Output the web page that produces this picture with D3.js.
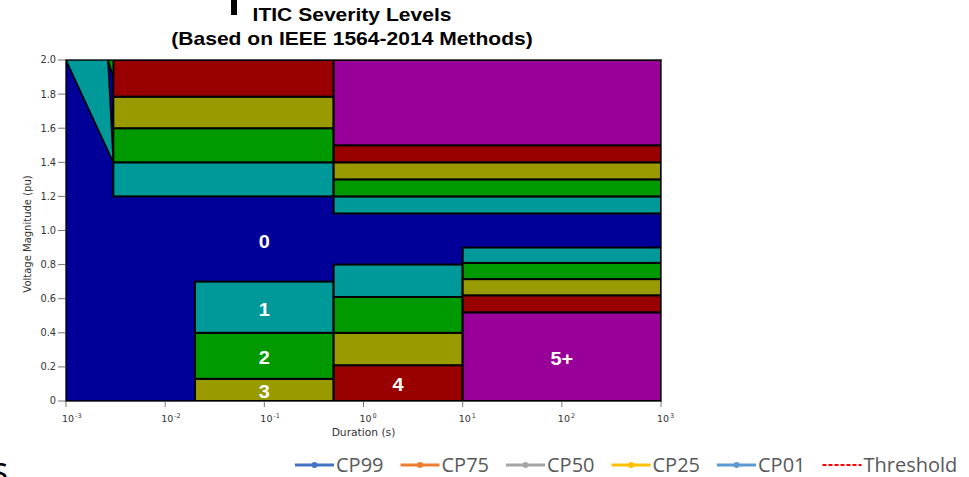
<!DOCTYPE html>
<html>
<head>
<meta charset="utf-8">
<script src="https://cdn.jsdelivr.net/npm/d3@7"></script>
<style>
  html, body { margin: 0; padding: 0; background: #ffffff; }
  svg { display: block; }
</style>
</head>
<body>
<svg id="chart" width="969" height="477"></svg>
<script>
// Severity levels (IEEE 1564-2014 style), level 0 .. 5+
const levelNames  = ["0", "1", "2", "3", "4", "5+"];
const levelColors = ["#000099", "#009999", "#009900", "#999900", "#990000", "#990099"];

// Overvoltage bands, 3 ms .. 0.5 s
const overShortSpan   = [0.003, 0.5];
const overShortEdges  = [1.2, 1.4, 1.6, 1.785, 2.0];
const overShortLevels = [1, 2, 3, 4];

// Overvoltage bands, 0.5 s .. 1000 s
const overLongSpan   = [0.5, 1000];
const overLongEdges  = [1.1, 1.2, 1.3, 1.4, 1.5, 2.0];
const overLongLevels = [1, 2, 3, 4, 5];

// Undervoltage bands, 20 ms .. 0.5 s
const underShortSpan   = [0.02, 0.5];
const underShortEdges  = [0, 0.13, 0.4, 0.7];
const underShortLevels = [3, 2, 1];

// Undervoltage bands, 0.5 s .. 10 s
const underMidSpan   = [0.5, 10];
const underMidEdges  = [0, 0.21, 0.4, 0.61, 0.8];
const underMidLevels = [4, 3, 2, 1];

// Undervoltage bands, 10 s .. 1000 s
const underLongSpan   = [10, 1000];
const underLongEdges  = [0, 0.52, 0.62, 0.715, 0.81, 0.9];
const underLongLevels = [5, 4, 3, 2, 1];

// Sub-3 ms overvoltage wedges as [duration, pu] vertices
const wedgeLevel1 = [[0.001, 2.0], [0.00265, 2.0], [0.003, 1.4]];
const wedgeLevel2 = [[0.00265, 2.0], [0.003, 2.0], [0.003, 1.9]];

// Axis ticks
const xTickExponents = [-3, -2, -1, 0, 1, 2, 3];
const yTickValues    = [0, 0.2, 0.4, 0.6, 0.8, 1.0, 1.2, 1.4, 1.6, 1.8, 2.0];

// Legend entries
const legendNames  = ["CP99", "CP75", "CP50", "CP25", "CP01", "Threshold"];
const legendColors = ["#4472C4", "#ED7D31", "#A5A5A5", "#FFC000", "#5B9BD5", "#FF0000"];

const svg = d3.select("#chart");

const plot = { left: 66, right: 661, top: 60, bottom: 401 };
const x = d3.scaleLog().domain([1e-3, 1e3]).range([plot.left, plot.right]);
const y = d3.scaleLinear().domain([0, 2]).range([plot.bottom, plot.top]);

const STRETCH = 1.17;   // chart text is drawn slightly wide

function wideText(parent, px, py, str, sx) {
  const g = parent.append("g")
    .attr("transform", `translate(${px},${py}) scale(${sx === undefined ? STRETCH : sx},1)`);
  return g.append("text").attr("x", 0).attr("y", 0).text(str);
}

// ---- Level 0 background
svg.append("rect")
  .attr("x", x(1e-3)).attr("y", y(2))
  .attr("width", x(1e3) - x(1e-3)).attr("height", y(0) - y(2))
  .attr("fill", levelColors[0])
  .attr("stroke", "#000").attr("stroke-width", 1.5);

// ---- Banded rectangles
const bandSets = [
  { span: overShortSpan,  edges: overShortEdges,  levels: overShortLevels },
  { span: overLongSpan,   edges: overLongEdges,   levels: overLongLevels },
  { span: underShortSpan, edges: underShortEdges, levels: underShortLevels },
  { span: underMidSpan,   edges: underMidEdges,   levels: underMidLevels },
  { span: underLongSpan,  edges: underLongEdges,  levels: underLongLevels }
];

const bands = [];
bandSets.forEach((set, si) => {
  set.levels.forEach((lv, i) => {
    bands.push({ set: si, x0: set.span[0], x1: set.span[1], v0: set.edges[i], v1: set.edges[i + 1], level: lv });
  });
});

svg.append("g").selectAll("rect")
  .data(bands)
  .join("rect")
  .attr("x", d => x(d.x0))
  .attr("y", d => y(d.v1))
  .attr("width", d => x(d.x1) - x(d.x0))
  .attr("height", d => y(d.v0) - y(d.v1))
  .attr("fill", d => levelColors[d.level])
  .attr("stroke", "#000")
  .attr("stroke-width", 2);

// ---- Sub-3 ms wedges
const poly = d3.line().x(d => x(d[0])).y(d => y(d[1]));
[[wedgeLevel1, 1], [wedgeLevel2, 2]].forEach(([pts, lv]) => {
  svg.append("path")
    .attr("d", poly(pts) + "Z")
    .attr("fill", levelColors[lv])
    .attr("stroke", "#000")
    .attr("stroke-width", 1.6)
    .attr("stroke-linejoin", "round");
});

// ---- Outer frame
svg.append("rect")
  .attr("x", plot.left - 0.5).attr("y", plot.top - 0.5)
  .attr("width", plot.right - plot.left + 1).attr("height", plot.bottom - plot.top + 1)
  .attr("fill", "none").attr("stroke", "#555").attr("stroke-width", 1);

// ---- Level labels
const LEVEL_FS = 19;
const levelLabelGroup = svg.append("g")
  .attr("font-family", "'Liberation Sans', Arial, sans-serif")
  .attr("font-weight", "bold").attr("font-size", LEVEL_FS).attr("fill", "#ffffff");

function placeLevel(name, dur, volt) {
  wideText(levelLabelGroup, x(dur), y(volt) + 1.5 + 0.358 * LEVEL_FS, name, 1.05)
    .attr("text-anchor", "middle");
}
const geo = (a, b) => Math.sqrt(a * b);
placeLevel(levelNames[0], 0.1, 0.945);
bands.filter(b => b.set === 2).forEach(b => placeLevel(levelNames[b.level], geo(b.x0, b.x1), (b.v0 + b.v1) / 2));
bands.filter(b => b.set === 3 && b.level === 4).forEach(b => placeLevel(levelNames[b.level], geo(b.x0, b.x1), (b.v0 + b.v1) / 2));
bands.filter(b => b.set === 4 && b.level === 5).forEach(b => placeLevel(levelNames[b.level], geo(b.x0, b.x1), (b.v0 + b.v1) / 2));

// ---- Axes
const axisFont = "'DejaVu Sans', Verdana, sans-serif";
const axisG = svg.append("g").attr("font-family", axisFont).attr("fill", "#333");

// y ticks
yTickValues.forEach(v => {
  axisG.append("line")
    .attr("x1", plot.left - 8).attr("x2", plot.left - 1)
    .attr("y1", y(v)).attr("y2", y(v))
    .attr("stroke", "#777").attr("stroke-width", 1);
  wideText(axisG, plot.left - 10, y(v) + 3.4, v === 0 ? "0" : d3.format(".1f")(v), 1.0)
    .attr("text-anchor", "end").attr("font-size", 9.8);
});

// x ticks
xTickExponents.forEach(e => {
  const px = x(Math.pow(10, e));
  axisG.append("line")
    .attr("x1", px).attr("x2", px)
    .attr("y1", plot.bottom + 1).attr("y2", plot.bottom + 6)
    .attr("stroke", "#777").attr("stroke-width", 1);
  const t = wideText(axisG, px - 4, 422, "", 1.0).attr("font-size", 9.5);
  t.append("tspan").text("10");
  t.append("tspan").attr("dy", -4.5).attr("dx", 1).attr("font-size", 6.5).text(e < 0 ? "-" + (-e) : String(e));
});

// axis titles
wideText(axisG, (plot.left + plot.right) / 2, 436, "Duration (s)", 1.07)
  .attr("text-anchor", "middle").attr("font-size", 10);

axisG.append("text")
  .attr("transform", `translate(31,234) rotate(-90)`)
  .attr("text-anchor", "middle").attr("font-size", 10)
  .text("Voltage Magnitude (pu)");

// ---- Title
const titleG = svg.append("g")
  .attr("font-family", "'Liberation Sans', Arial, sans-serif")
  .attr("font-weight", "bold").attr("font-size", 18).attr("fill", "#000");
wideText(titleG, 352, 21, "ITIC Severity Levels").attr("text-anchor", "middle");
wideText(titleG, 352, 44.5, "(Based on IEEE 1564-2014 Methods)").attr("text-anchor", "middle");

// ---- Legend
const legendG = svg.append("g")
  .attr("font-family", "'Open Sans', sans-serif")
  .attr("font-size", 20).attr("fill", "#595959");
let lx = 295;
const ly = 465;
legendNames.forEach((name, i) => {
  const c = legendColors[i];
  if (name === "Threshold") {
    legendG.append("line")
      .attr("x1", lx).attr("x2", lx + 39).attr("y1", ly).attr("y2", ly)
      .attr("stroke", c).attr("stroke-width", 1.8).attr("stroke-dasharray", "4,2");
  } else {
    legendG.append("line")
      .attr("x1", lx).attr("x2", lx + 39).attr("y1", ly).attr("y2", ly)
      .attr("stroke", c).attr("stroke-width", 3);
    legendG.append("circle")
      .attr("cx", lx + 19.5).attr("cy", ly).attr("r", 3).attr("fill", c);
  }
  const t = legendG.append("text").attr("x", lx + 41).attr("y", ly + 7).text(name);
  lx = lx + 41 + t.node().getComputedTextLength() + 17;
});

// ---- Fragments of surrounding slide text
svg.append("rect").attr("x", 231).attr("y", 0).attr("width", 6).attr("height", 15).attr("fill", "#000");
svg.append("text")
  .attr("x", -9).attr("y", 483)
  .attr("font-family", "'Open Sans', sans-serif").attr("font-size", 36).attr("fill", "#000")
  .text("s");
</script>
</body>
</html>
